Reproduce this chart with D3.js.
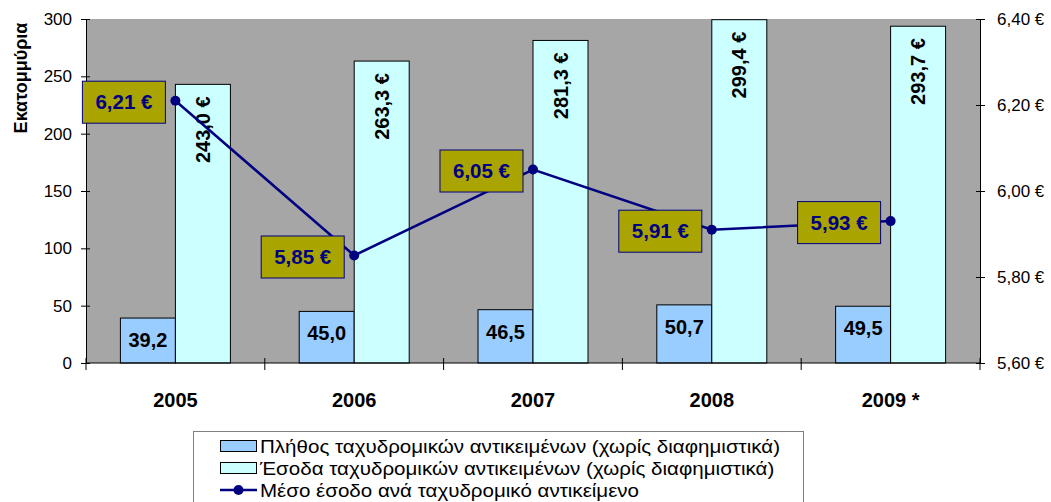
<!DOCTYPE html>
<html><head><meta charset="utf-8">
<script src="https://cdn.jsdelivr.net/npm/d3@7"></script>
<style>
body{margin:0;background:#fff;}
svg{display:block;font-family:Arial,"Liberation Sans",sans-serif;}
</style></head>
<body><svg id="c" width="1051" height="502"></svg>
<script>
const years = ["2005","2006","2007","2008","2009 *"];
const items = [39.2,45.0,46.5,50.7,49.5];
const revenue = [243.0,263.3,281.3,299.4,293.7];
const avgRev = [6.21,5.85,6.05,5.91,5.93];
const leftTicks = [0,50,100,150,200,250,300];
const rightTicks = [5.6,5.8,6.0,6.2,6.4];
const seriesNames = ["Πλήθος ταχυδρομικών αντικειμένων (χωρίς διαφημιστικά)",
                     "Έσοδα ταχυδρομικών αντικειμένων (χωρίς διαφημιστικά)",
                     "Μέσο έσοδο ανά ταχυδρομικό αντικείμενο"];
const yTitle = "Εκατομμύρια";

const svg = d3.select("#c");
const L=86, R=980, T=19, B=363;
const loc = d3.formatLocale({decimal:",",thousands:".",grouping:[3],currency:["","\u00a0€"]});
const f1 = loc.format(".1f"), f2 = loc.format(".2f");

const x = d3.scaleBand().domain(years).range([L,R]);
const groupW = 110;
const xs = d3.scaleBand().domain([0,1]).range([0,groupW]);
const y = d3.scaleLinear().domain([0,300]).range([B,T]);
const y2 = d3.scaleLinear().domain([5.6,6.4]).range([B,T]);

svg.append("rect").attr("x",L).attr("y",T).attr("width",R-L).attr("height",B-T).attr("fill","#A6A6A6");

const off = (x.bandwidth()-groupW)/2;
const cols = ["#99CCFF","#CCFFFF"];
const data = [items,revenue];
data.forEach((arr,si)=>{
  svg.append("g").selectAll("rect").data(arr).join("rect")
    .attr("x",(d,i)=>x(years[i])+off+xs(si))
    .attr("y",d=>y(d)).attr("width",xs.bandwidth()).attr("height",d=>B-y(d))
    .attr("fill",cols[si]).attr("stroke","#000").attr("stroke-width",1);
});

// item labels
svg.append("g").selectAll("text").data(items).join("text")
  .attr("x",(d,i)=>x(years[i])+off+xs(0)+xs.bandwidth()/2)
  .attr("y",d=>y(d)+29).attr("text-anchor","middle")
  .attr("font-size",20).attr("font-weight","bold").attr("fill","#000")
  .text(d=>f1(d));
// revenue labels rotated
svg.append("g").selectAll("text").data(revenue).join("text")
  .attr("transform",(d,i)=>`translate(${x(years[i])+off+xs(1)+xs.bandwidth()/2+7},${y(d)+12}) rotate(-90)`)
  .attr("text-anchor","end")
  .attr("font-size",20).attr("font-weight","bold").attr("fill","#000")
  .text(d=>f1(d)+" €");

// axes
const ga = svg.append("g").attr("transform",`translate(${L},0)`)
  .call(d3.axisLeft(y).tickValues(leftTicks).tickSize(5).tickPadding(9).tickSizeOuter(0));
ga.selectAll(".tick line").attr("x1",4);
const gr = svg.append("g").attr("transform",`translate(${R},0)`)
  .call(d3.axisRight(y2).tickValues(rightTicks).tickSize(5).tickPadding(12).tickSizeOuter(0).tickFormat(d=>f2(d)+" €"));
gr.selectAll(".tick line").attr("x1",-4);
[ga,gr].forEach(g=>{
  g.select(".domain").attr("stroke","#000");
  g.selectAll(".tick text").attr("font-size",17).attr("fill","#000").attr("font-family","Arial,'Liberation Sans',sans-serif");
});
// bottom axis
const gb = svg.append("g").attr("transform",`translate(0,${B})`)
  .call(d3.axisBottom(x).tickSize(0).tickPadding(30).tickSizeOuter(0));
gb.select(".domain").remove();
gb.selectAll(".tick text").attr("font-size",20).attr("font-weight","bold").attr("fill","#000")
  .attr("font-family","Arial,'Liberation Sans',sans-serif");
svg.append("line").attr("x1",L).attr("x2",R).attr("y1",B).attr("y2",B).attr("stroke","#000");
svg.append("g").selectAll("line").data(years.concat(["end"])).join("line")
  .attr("x1",(d,i)=>L+i*x.bandwidth()).attr("x2",(d,i)=>L+i*x.bandwidth())
  .attr("y1",B-5).attr("y2",B+7).attr("stroke","#000");

// title
svg.append("text").attr("transform","translate(27,78) rotate(-90)")
  .attr("text-anchor","middle").attr("font-size",18).attr("font-weight","bold").text(yTitle);

// line
const cx = (d,i)=>x(years[i])+x.bandwidth()/2;
svg.append("path").datum(avgRev)
  .attr("d",d3.line().x(cx).y(d=>y2(d)))
  .attr("fill","none").attr("stroke","#000080").attr("stroke-width",2.5);
svg.append("g").selectAll("circle").data(avgRev).join("circle")
  .attr("cx",cx).attr("cy",d=>y2(d)).attr("r",5).attr("fill","#000080");
// label boxes
const lb = svg.append("g").selectAll("g").data(avgRev).join("g")
  .attr("transform",(d,i)=>`translate(${cx(d,i)-10},${y2(d)+1.5})`);
lb.append("rect").attr("x",-83).attr("y",-21).attr("width",83).attr("height",42)
  .attr("fill","#AAA400").attr("stroke","#000080").attr("stroke-width",1);
lb.append("text").attr("x",-41.5).attr("y",7).attr("text-anchor","middle")
  .attr("font-size",20.5).attr("font-weight","bold").attr("fill","#000080")
  .text(d=>f2(d)+" €");

// legend
const lg = svg.append("g");
lg.append("rect").attr("x",193.5).attr("y",431.5).attr("width",610).attr("height",90)
  .attr("fill","#fff").attr("stroke","#808080");
const rowsY = [446,468,490];
[0,1].forEach(i=>{
  lg.append("rect").attr("x",220.5).attr("y",rowsY[i]-5.5).attr("width",36).attr("height",11)
    .attr("fill",cols[i]).attr("stroke","#000");
});
lg.append("line").attr("x1",220).attr("x2",257).attr("y1",rowsY[2]).attr("y2",rowsY[2]).attr("stroke","#000080").attr("stroke-width",2.5);
lg.append("circle").attr("cx",238.5).attr("cy",rowsY[2]).attr("r",5).attr("fill","#000080");
const lt = lg.selectAll("text.l").data(seriesNames).join("text").attr("class","l")
  .attr("x",260).attr("y",(d,i)=>rowsY[i]+7).attr("font-size",19).attr("fill","#000").text(d=>d);
const w0 = lt.node().getComputedTextLength();
const k = 520 / w0;
lt.each(function(){ const w=this.getComputedTextLength(); d3.select(this).attr("textLength",w*k).attr("lengthAdjust","spacingAndGlyphs"); });
</script></body></html>
